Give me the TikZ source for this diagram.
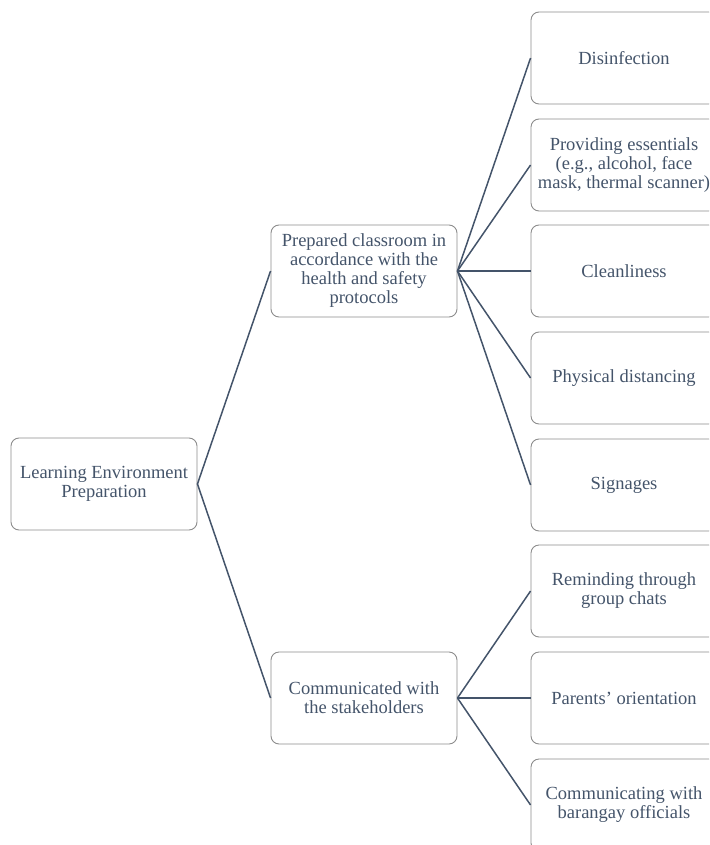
\documentclass[tikz,border=0pt]{standalone}
\usepackage{fontspec}
\setmainfont{Liberation Serif}
\definecolor{slate}{HTML}{44546A}
\definecolor{boxline}{HTML}{8C8C8C}
\begin{document}
\begin{tikzpicture}[x=1pt,y=-1pt,
  box/.style={draw=boxline, line width=0.9pt, rounded corners=8pt,
    minimum width=186pt, minimum height=92pt, align=center, text=slate,
    inner sep=2pt, font=\fontsize{18.5}{19}\selectfont},
  link/.style={draw=slate, line width=1.5pt}]
\useasboundingbox (0,0) rectangle (709,845);
\clip (0,0) rectangle (709,845);

% root
\node[box] (root) at (104,484) {Learning Environment\\Preparation};

% second level
\node[box] (prep) at (364,271) {Prepared classroom in\\accordance with the\\health and safety\\protocols};
\node[box] (comm) at (364,698) {Communicated with\\the stakeholders};

% third level
\node[box] (dis)  at (624,58)  {Disinfection};
\node[box] (ess)  at (624,165) {Providing essentials\\(e.g., alcohol, face\\mask, thermal scanner)};
\node[box] (cln)  at (624,271) {Cleanliness};
\node[box] (phy)  at (624,378) {Physical distancing};
\node[box] (sig)  at (624,485) {Signages};
\node[box] (grp)  at (624,591) {Reminding through\\group chats};
\node[box] (par)  at (624,698) {Parents’ orientation};
\node[box] (bar)  at (624,805) {Communicating with\\barangay officials};

% connectors
\draw[link] (root.east) -- (prep.west);
\draw[link] (root.east) -- (comm.west);
\foreach \t in {dis,ess,cln,phy,sig}
  \draw[link] (prep.east) -- (\t.west);
\foreach \t in {grp,par,bar}
  \draw[link] (comm.east) -- (\t.west);
\end{tikzpicture}
\end{document}
